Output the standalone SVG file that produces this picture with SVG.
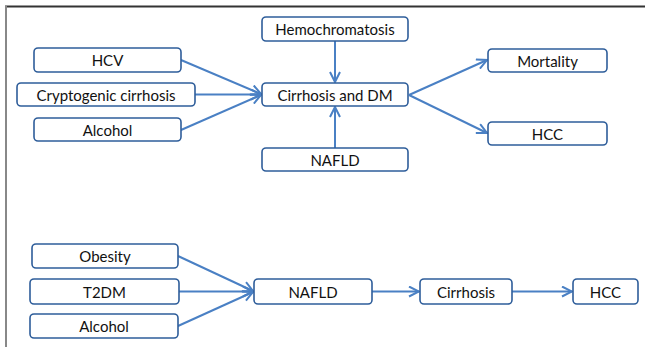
<svg xmlns="http://www.w3.org/2000/svg" width="645" height="347" viewBox="0 0 645 347">
<defs>
<style>
.box{fill:#fff;stroke:#2e5d9a;stroke-width:1.6}
.t{font-family:Lato,"Open Sans","Liberation Sans",sans-serif;font-size:15px;fill:#111;text-anchor:middle;dominant-baseline:central}
.c{stroke:#4a80c4;stroke-width:2;fill:none}
</style>
<marker id="ah" viewBox="0 0 12 12" refX="11" refY="6" markerWidth="12" markerHeight="12" markerUnits="userSpaceOnUse" orient="auto">
<path d="M1,1 L11,6 L1,11" fill="none" stroke="#4a80c4" stroke-width="2"/>
</marker>
</defs>
<rect width="645" height="347" fill="#fff"/>
<line x1="5" y1="6.5" x2="645" y2="6.5" stroke="#333" stroke-width="2"/>
<line x1="6" y1="6" x2="6" y2="347" stroke="#888" stroke-width="2"/>
<g id="connectors">
<line class="c" x1="181" y1="60" x2="261" y2="94" marker-end="url(#ah)"/>
<line class="c" x1="195" y1="94.5" x2="261" y2="94.5" marker-end="url(#ah)"/>
<line class="c" x1="181" y1="130" x2="261" y2="95" marker-end="url(#ah)"/>
<line class="c" x1="335" y1="41" x2="335" y2="82" marker-end="url(#ah)"/>
<line class="c" x1="335" y1="148" x2="335" y2="107" marker-end="url(#ah)"/>
<line class="c" x1="409" y1="95" x2="487" y2="60" marker-end="url(#ah)"/>
<line class="c" x1="409" y1="95" x2="487" y2="133" marker-end="url(#ah)"/>
<line class="c" x1="178" y1="256" x2="253" y2="291" marker-end="url(#ah)"/>
<line class="c" x1="179" y1="291.5" x2="253" y2="291.5" marker-end="url(#ah)"/>
<line class="c" x1="178" y1="326" x2="253" y2="292" marker-end="url(#ah)"/>
<line class="c" x1="372" y1="291.5" x2="419" y2="291.5" marker-end="url(#ah)"/>
<line class="c" x1="512" y1="291.5" x2="572" y2="291.5" marker-end="url(#ah)"/>
</g>
<g id="hemochromatosis"><rect class="box" x="262" y="17" width="146" height="24" rx="4"/><text class="t" x="335" y="29">Hemochromatosis</text></g>
<g id="hcv"><rect class="box" x="34" y="48" width="147" height="24" rx="4"/><text class="t" x="107.5" y="60">HCV</text></g>
<g id="cryptogenic"><rect class="box" x="17" y="83" width="178" height="23" rx="4"/><text class="t" x="106" y="94.5">Cryptogenic cirrhosis</text></g>
<g id="alcohol1"><rect class="box" x="34" y="118" width="147" height="23" rx="4"/><text class="t" x="107.5" y="129.5">Alcohol</text></g>
<g id="cirrhosis-dm"><rect class="box" x="262" y="83" width="146" height="23" rx="4"/><text class="t" x="335" y="94.5">Cirrhosis and DM</text></g>
<g id="nafld1"><rect class="box" x="262" y="148" width="146" height="23" rx="4"/><text class="t" x="335" y="159.5">NAFLD</text></g>
<g id="mortality"><rect class="box" x="488" y="49" width="119" height="23" rx="4"/><text class="t" x="547.5" y="60.5">Mortality</text></g>
<g id="hcc1"><rect class="box" x="488" y="122" width="119" height="23" rx="4"/><text class="t" x="547.5" y="133.5">HCC</text></g>
<g id="obesity"><rect class="box" x="32" y="244" width="146" height="24" rx="4"/><text class="t" x="105" y="256">Obesity</text></g>
<g id="t2dm"><rect class="box" x="30" y="279" width="149" height="25" rx="4"/><text class="t" x="104.5" y="291.5">T2DM</text></g>
<g id="alcohol2"><rect class="box" x="30" y="314" width="148" height="24" rx="4"/><text class="t" x="104" y="326">Alcohol</text></g>
<g id="nafld2"><rect class="box" x="254" y="279" width="118" height="25" rx="4"/><text class="t" x="313" y="291.5">NAFLD</text></g>
<g id="cirrhosis"><rect class="box" x="420" y="279" width="92" height="25" rx="4"/><text class="t" x="466" y="291.5">Cirrhosis</text></g>
<g id="hcc2"><rect class="box" x="573" y="279" width="65" height="25" rx="4"/><text class="t" x="605.5" y="291.5">HCC</text></g>
</svg>
